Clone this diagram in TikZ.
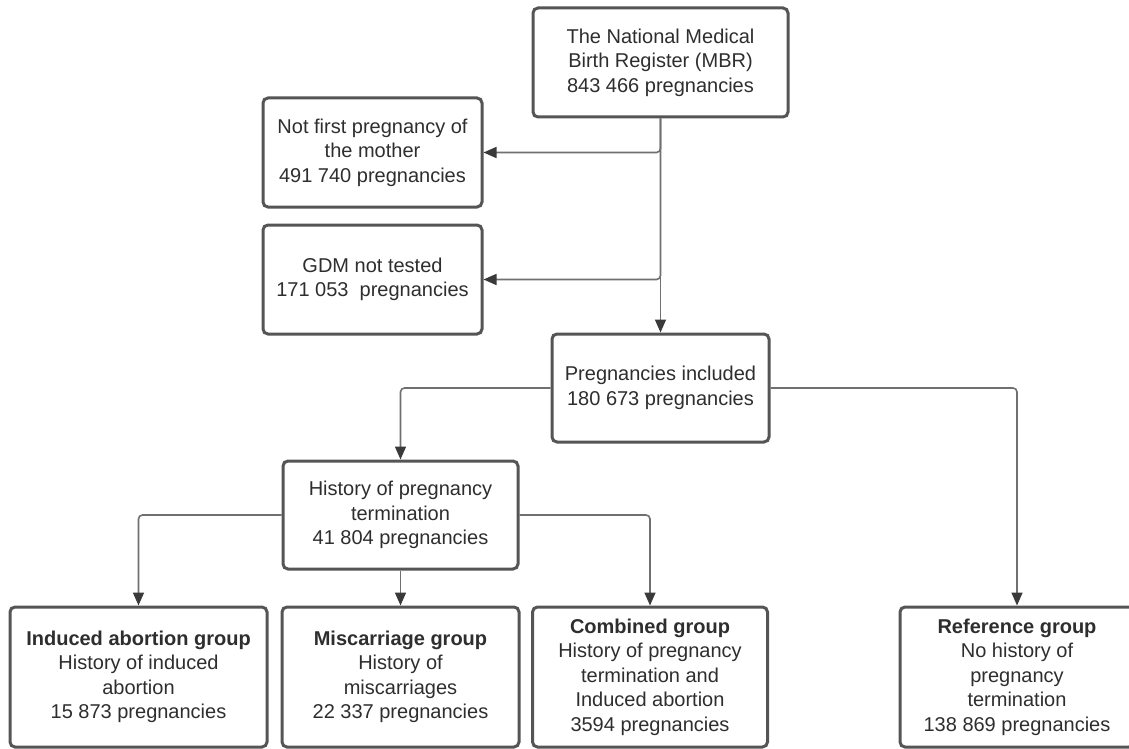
\documentclass[tikz,border=0pt]{standalone}
\usepackage{fontspec}
\setmainfont{Liberation Sans}
\usetikzlibrary{arrows.meta}
\definecolor{txt}{HTML}{2E2E2E}
\definecolor{bord}{HTML}{555555}
\definecolor{conn}{HTML}{707070}
\definecolor{tipc}{HTML}{3A3A3A}
\tikzset{
  box/.style={draw=bord, line width=3pt, rounded corners=5pt, fill=white,
    text=txt, align=center, inner sep=0pt,
    font=\fontsize{20}{24.5}\selectfont},
  flow/.style={draw=conn, line width=1.6pt, rounded corners=4pt,
    -{Triangle[length=13pt,width=11pt,fill=tipc,color=tipc]}},
}
\begin{document}
\begin{tikzpicture}[x=1pt,y=-1pt]
\useasboundingbox (0,0) rectangle (1129,749);
\clip (0,0) rectangle (1129,749);
\fill[white] (0,0) rectangle (1129,749);

\node[box, minimum width=255pt, minimum height=109pt] (mbr) at (660.5,62.5)
  {The National Medical\\Birth Register (MBR)\\843 466 pregnancies};
\node[box, minimum width=219pt, minimum height=109pt] (nf) at (372.5,152.5)
  {Not first pregnancy of\\the mother\\491 740 pregnancies};
\node[box, minimum width=219pt, minimum height=109pt] (gdm) at (372.5,279.5)
  {GDM not tested\\171 053\ \ pregnancies};
\node[box, minimum width=217pt, minimum height=108pt] (inc) at (660.5,388)
  {Pregnancies included\\180 673 pregnancies};
\node[box, minimum width=235pt, minimum height=108pt] (hist) at (400.5,515)
  {History of pregnancy\\termination\\41 804 pregnancies};
\node[box, minimum width=257pt, minimum height=140pt] (ia) at (138.5,677)
  {\textbf{Induced abortion group}\\History of induced\\abortion\\15 873 pregnancies};
\node[box, minimum width=237pt, minimum height=140pt] (mis) at (400.5,677)
  {\textbf{Miscarriage group}\\History of\\miscarriages\\22 337 pregnancies};
\node[box, minimum width=235pt, minimum height=140pt] (comb) at (650,677)
  {\textbf{Combined group}\\History of pregnancy\\termination and\\Induced abortion\\3594 pregnancies};
\node[box, minimum width=234pt, minimum height=140pt] (ref) at (1017,677)
  {\textbf{Reference group}\\No history of\\pregnancy\\termination\\138 869 pregnancies};

\draw[flow] (mbr.south) -- (inc.north);
\draw[flow] (mbr.south) |- (nf.east);
\draw[flow] (mbr.south) |- (gdm.east);
\draw[flow] (inc.west) -| (hist.north);
\draw[flow] (inc.east) -| (ref.north);
\draw[flow] (hist.west) -| (ia.north);
\draw[flow] (hist.south) -- (mis.north);
\draw[flow] (hist.east) -| (comb.north);
\end{tikzpicture}
\end{document}
